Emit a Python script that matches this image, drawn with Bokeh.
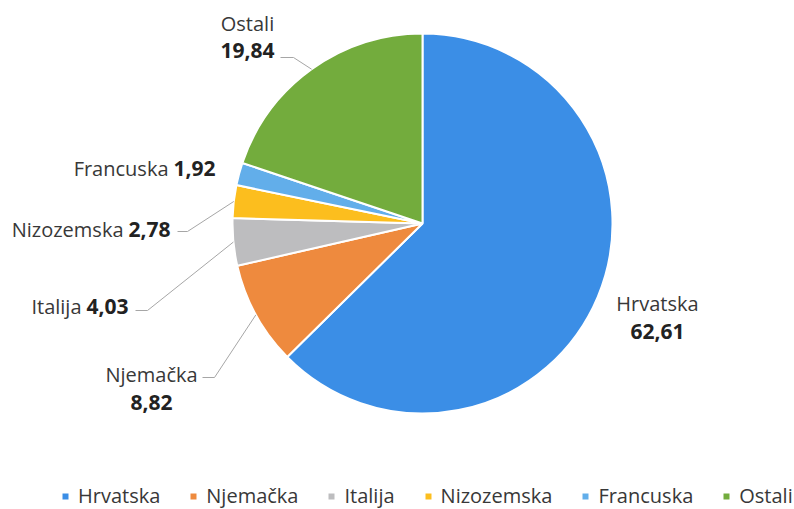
import numpy as np
from bokeh.plotting import figure
from bokeh.models import ColumnDataSource, Range1d, Legend, LegendItem
from bokeh.core.properties import value
from bokeh.embed import file_html
from bokeh.resources import INLINE

# ---- data ----
countries = ["Hrvatska", "Njemačka", "Italija", "Nizozemska", "Francuska", "Ostali"]
shares = [62.61, 8.82, 4.03, 2.78, 1.92, 19.84]
share_labels = ["62,61", "8,82", "4,03", "2,78", "1,92", "19,84"]
colors = ["#3b8ee6", "#ee8a3e", "#bdbdbf", "#fcbe1e", "#62aeea", "#73ac3d"]

# ---- layout ----
W, H = 794, 509
def sx(x):  # screen x -> data x
    return x
def sy(y):  # screen y -> data y
    return H - y

cx, cy, R = sx(422), sy(223), 190

p = figure(width=W, height=H, x_range=Range1d(0, W), y_range=Range1d(0, H),
           output_backend="svg", toolbar_location=None, min_border=0,
           x_axis_location=None, y_axis_location=None)
p.grid.visible = False
p.outline_line_color = None
p.background_fill_color = "white"

vals = np.array(shares, dtype=float)
frac = vals / vals.sum()
ends_cum = np.cumsum(frac)
starts_cum = ends_cum - frac
start_angle = np.pi / 2 - 2 * np.pi * starts_cum
end_angle = np.pi / 2 - 2 * np.pi * ends_cum
mid_angle = (start_angle + end_angle) / 2

src = ColumnDataSource(dict(country=countries, share=shares, color=colors,
                            start=start_angle, end=end_angle))
wr = p.wedge(x=cx, y=cy, radius=R, start_angle="start", end_angle="end",
             direction="clock", fill_color="color", line_color="white",
             line_width=2, source=src)

# ---- labels ----
name_color = "#383838"
val_color = "#222222"
FONT = value("Open Sans")

label_layout = {
    "Hrvatska": ("stack", 657, 303, 331),
    "Njemačka": ("stack", 151, 374, 402),
    "Italija": ("inline", 81, 306),
    "Nizozemska": ("inline", 123, 229),
    "Francuska": ("inline", 168, 168),
    "Ostali": ("stack", 247, 23, 50),
}
leader_start = {
    "Ostali": ((280, 57), (293, 57)),
    "Nizozemska": ((177, 231), (187, 231)),
    "Italija": ((135, 310), (147, 310)),
    "Njemačka": ((202, 377), (214, 377)),
}

nx, ny, na, nal = [], [], [], []
vx, vy, vt, val_al = [], [], [], []
for i, c in enumerate(countries):
    lay = label_layout[c]
    if lay[0] == "stack":
        nx.append(sx(lay[1])); ny.append(sy(lay[2])); na.append(c); nal.append("center")
        vx.append(sx(lay[1])); vy.append(sy(lay[3])); vt.append(share_labels[i]); val_al.append("center")
    else:
        nx.append(sx(lay[1])); ny.append(sy(lay[2])); na.append(c); nal.append("right")
        vx.append(sx(lay[1] + 5)); vy.append(sy(lay[2])); vt.append(share_labels[i]); val_al.append("left")

p.text(x="x", y="y", text="t", text_align="a", text_baseline="middle",
       text_font=FONT, text_font_size="20px", text_color=name_color,
       source=ColumnDataSource(dict(x=nx, y=ny, t=na, a=nal)))
p.text(x="x", y="y", text="t", text_align="a", text_baseline="middle",
       text_font=FONT, text_font_size="21px", text_font_style="bold",
       text_color=val_color,
       source=ColumnDataSource(dict(x=vx, y=vy, t=vt, a=val_al)))

# leader lines
lxs, lys = [], []
for i, c in enumerate(countries):
    if c in leader_start:
        (x0, y0), (x1, y1) = leader_start[c]
        ex = cx + R * np.cos(mid_angle[i])
        ey = cy + R * np.sin(mid_angle[i])
        lxs.append([sx(x0), sx(x1), ex])
        lys.append([sy(y0), sy(y1), ey])
p.multi_line(xs=lxs, ys=lys, line_color="#a6a6a6", line_width=1)

# ---- legend ----
items = [LegendItem(label=c, renderers=[wr], index=i) for i, c in enumerate(countries)]
legend = Legend(items=items, orientation="horizontal", location=(sx(60), 0),
                glyph_width=10, glyph_height=10, label_standoff=8, spacing=28,
                padding=0, margin=0, border_line_color=None,
                background_fill_alpha=0, label_text_font="Open Sans",
                label_text_font_size="20px", label_text_color="#383838",
                label_height=26)
p.add_layout(legend, "center")

open("out.html", "w").write(file_html(p, INLINE))
